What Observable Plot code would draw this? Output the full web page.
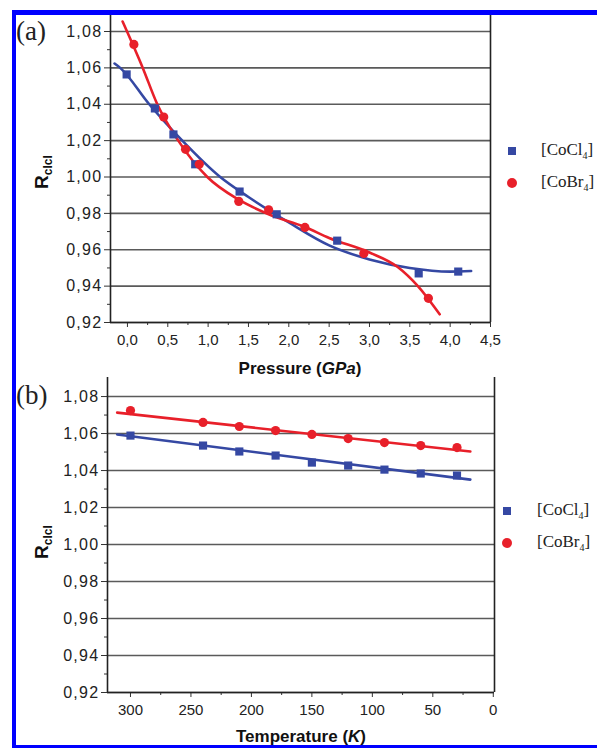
<!DOCTYPE html>
<html><head><meta charset="utf-8">
<script src="https://cdn.jsdelivr.net/npm/d3@7"></script>
<script src="https://cdn.jsdelivr.net/npm/@observablehq/plot@0.6"></script>
<style>
body{margin:0;background:#fff;}
#fig{position:relative;width:597px;height:748px;overflow:hidden;background:#fff;font-family:"Liberation Sans",Arial,sans-serif;}
#fig svg{position:absolute;left:0;}
#fig svg g[aria-label="y-axis tick label"] text{letter-spacing:1.3px;}
.bar{position:absolute;background:#0000ff;z-index:5;}
.plab{position:absolute;font-family:"Liberation Serif","Times New Roman",serif;font-size:27px;color:#222;line-height:1;}
.ylab{position:absolute;transform:translate(-50%,-50%) rotate(-90deg);font-weight:bold;font-size:19px;color:#111;white-space:nowrap;}
.ylab sub{font-size:12px;font-weight:bold;}
.xlab{position:absolute;transform:translateX(-50%);font-weight:bold;font-size:17px;color:#111;white-space:nowrap;line-height:1;}
.leg{position:absolute;font-family:"Liberation Serif","Times New Roman",serif;font-size:17px;color:#222;white-space:nowrap;transform:translateY(-50%);line-height:1;}
.leg sub{font-size:10px;}
.sym{position:absolute;transform:translate(-50%,-50%);}
</style>
</head><body>
<div id="fig"></div>
<script>
// ---------- Data (a): pressure ----------
const pressureCl = [-0.01, 0.34, 0.57, 0.84, 1.39, 1.85, 2.6, 3.61, 4.1];
const rClPressure = [1.0564, 1.0377, 1.0234, 1.007, 0.992, 0.9795, 0.965, 0.947, 0.948];
const pressureBr = [0.08, 0.45, 0.72, 0.89, 1.38, 1.75, 2.2, 2.93, 3.73];
const rBrPressure = [1.0729, 1.033, 1.0152, 1.007, 0.9866, 0.982, 0.9723, 0.958, 0.9333];
const fitClPressureX = [-0.16, -0.09, 0.27, 0.68, 1.15, 1.5, 2.0, 2.5, 3.0, 3.5, 4.0, 4.26];
const fitClPressureY = [1.0624, 1.06, 1.04, 1.02, 1.0, 0.989, 0.975, 0.9624, 0.9547, 0.950, 0.948, 0.9483];
const fitBrPressureX = [-0.06, 0.19, 0.37, 0.63, 0.99, 1.38, 1.75, 2.2, 2.5, 3.0, 3.35, 3.6, 3.87];
const fitBrPressureY = [1.0855, 1.06, 1.04, 1.02, 1.0, 0.9875, 0.9795, 0.9725, 0.9665, 0.9585, 0.9505, 0.940, 0.9245];
const pressureTicks = [0, 0.5, 1, 1.5, 2, 2.5, 3, 3.5, 4, 4.5];
const pressureMinor = [0.25, 0.75, 1.25, 1.75, 2.25, 2.75, 3.25, 3.75, 4.25];

// ---------- Data (b): temperature ----------
const temperature = [300, 240, 210, 180, 150, 120, 90, 60, 30];
const rClTemp = [1.0589, 1.0535, 1.0503, 1.0481, 1.0443, 1.0427, 1.0405, 1.0384, 1.0373];
const rBrTemp = [1.0724, 1.066, 1.0638, 1.0616, 1.0595, 1.0573, 1.0551, 1.0535, 1.0524];
const fitTempX = [311, 19];
const fitClTempY = [1.0595, 1.0351];
const fitBrTempY = [1.0713, 1.0503];
const tempTicks = [300, 250, 200, 150, 100, 50, 0];
const tempMinor = [275, 225, 175, 125, 75, 25];

// ---------- Shared y ticks ----------
const rTicks = [0.92, 0.94, 0.96, 0.98, 1.00, 1.02, 1.04, 1.06, 1.08];
const rMinor = [0.93, 0.95, 0.97, 0.99, 1.01, 1.03, 1.05, 1.07];

const BLUE = "#3548a3", RED = "#e8202a";
const comma = (d, n) => d.toFixed(n).replace(".", ",");
const zip = (xs, ys) => xs.map((x, i) => ({x, y: ys[i]}));

function panel({xDomain, yDomain, xTicks, xMinor, xFmt, margins, height, marks}) {
  return Plot.plot({
    width: 597, height,
    marginLeft: margins[0], marginRight: margins[1], marginTop: margins[2], marginBottom: margins[3],
    x: {domain: xDomain}, y: {domain: yDomain},
    style: {fontFamily: "Liberation Sans, Arial, sans-serif", fontSize: "15px", color: "#222", background: "transparent", overflow: "visible"},
    marks: [
      Plot.gridY(rTicks, {stroke: "#5a5a5a", strokeOpacity: 1, strokeWidth: 1.6}),
      Plot.axisY(rTicks, {tickSize: 6, tickPadding: 2, tickFormat: d => comma(d, 2), label: null, fontSize: 16, stroke: "#333"}),
      Plot.axisY(rMinor, {tickSize: 3, tickFormat: () => "", label: null, stroke: "#333"}),
      Plot.axisX(xTicks, {tickSize: 5, tickPadding: 7, tickFormat: xFmt, label: null, fontSize: 15, stroke: "#333"}),
      Plot.axisX(xMinor, {tickSize: 3, tickFormat: () => "", label: null, stroke: "#333"}),
      Plot.ruleX(xDomain, {stroke: "#222", strokeWidth: 1.6}),
      Plot.ruleY([yDomain[0]], {stroke: "#222", strokeWidth: 1.6}),
      ...marks
    ]
  });
}

const fig = document.getElementById("fig");

const plotA = panel({
  xDomain: [-0.21, 4.5], yDomain: [0.92, 1.0888],
  xTicks: pressureTicks, xMinor: pressureMinor, xFmt: d => comma(d, 1),
  margins: [110, 107, 15, 58], height: 380,
  marks: [
    Plot.line(zip(fitClPressureX, fitClPressureY), {x: "x", y: "y", stroke: BLUE, strokeWidth: 2.6, curve: "monotone-x"}),
    Plot.line(zip(fitBrPressureX, fitBrPressureY), {x: "x", y: "y", stroke: RED, strokeWidth: 2.6, curve: "monotone-x"}),
    Plot.dot(zip(pressureCl, rClPressure), {x: "x", y: "y", symbol: "square", r: 4.6, fill: BLUE}),
    Plot.dot(zip(pressureBr, rBrPressure), {x: "x", y: "y", symbol: "circle", r: 4.6, fill: RED})
  ]
});
plotA.style.top = "0px";
fig.appendChild(plotA);

const plotB = panel({
  xDomain: [319, -1], yDomain: [0.92, 1.0903],
  xTicks: tempTicks, xMinor: tempMinor, xFmt: d => String(d),
  margins: [107, 103, 7, 56], height: 378,
  marks: [
    Plot.line(zip(fitTempX, fitClTempY), {x: "x", y: "y", stroke: BLUE, strokeWidth: 2.6}),
    Plot.line(zip(fitTempX, fitBrTempY), {x: "x", y: "y", stroke: RED, strokeWidth: 2.6}),
    Plot.dot(zip(temperature, rClTemp), {x: "x", y: "y", symbol: "square", r: 4.6, fill: BLUE}),
    Plot.dot(zip(temperature, rBrTemp), {x: "x", y: "y", symbol: "circle", r: 4.6, fill: RED})
  ]
});
plotB.style.top = "370px";
fig.appendChild(plotB);

function add(cls, html, css) {
  const d = document.createElement("div");
  d.className = cls; d.innerHTML = html;
  Object.assign(d.style, css);
  fig.appendChild(d);
  return d;
}
// blue frame of the cropped figure
add("bar", "", {left: "12px", top: "10px", width: "597px", height: "5px"});
add("bar", "", {left: "12px", top: "10px", width: "4px", height: "748px"});
add("bar", "", {left: "12px", top: "745px", width: "597px", height: "4px"});

// panel labels
add("plab", "(a)", {left: "16px", top: "18px"});
add("plab", "(b)", {left: "16px", top: "382px"});

// y labels
add("ylab", "R<sub>clcl</sub>", {left: "43px", top: "172px"});
add("ylab", "R<sub>clcl</sub>", {left: "43px", top: "542px"});

// x labels
add("xlab", "Pressure (<i>GPa</i>)", {left: "300px", top: "360px"});
add("xlab", "Temperature (<i>K</i>)", {left: "301px", top: "728px"});

// legends
const legA = [[151, BLUE, "square", "[CoCl<sub>4</sub>]"], [183, RED, "circle", "[CoBr<sub>4</sub>]"]];
legA.forEach(([y, c, s, t]) => {
  add("sym", "", {left: "512px", top: y + "px", width: s === "square" ? "8px" : "10px", height: s === "square" ? "8px" : "10px", background: c, borderRadius: s === "circle" ? "50%" : "0"});
  add("leg", t, {left: "541px", top: y + "px"});
});
const legB = [[511, BLUE, "square", "[CoCl<sub>4</sub>]"], [543, RED, "circle", "[CoBr<sub>4</sub>]"]];
legB.forEach(([y, c, s, t]) => {
  add("sym", "", {left: "507px", top: y + "px", width: s === "square" ? "8px" : "10px", height: s === "square" ? "8px" : "10px", background: c, borderRadius: s === "circle" ? "50%" : "0"});
  add("leg", t, {left: "537px", top: y + "px"});
});
</script>
</body></html>
